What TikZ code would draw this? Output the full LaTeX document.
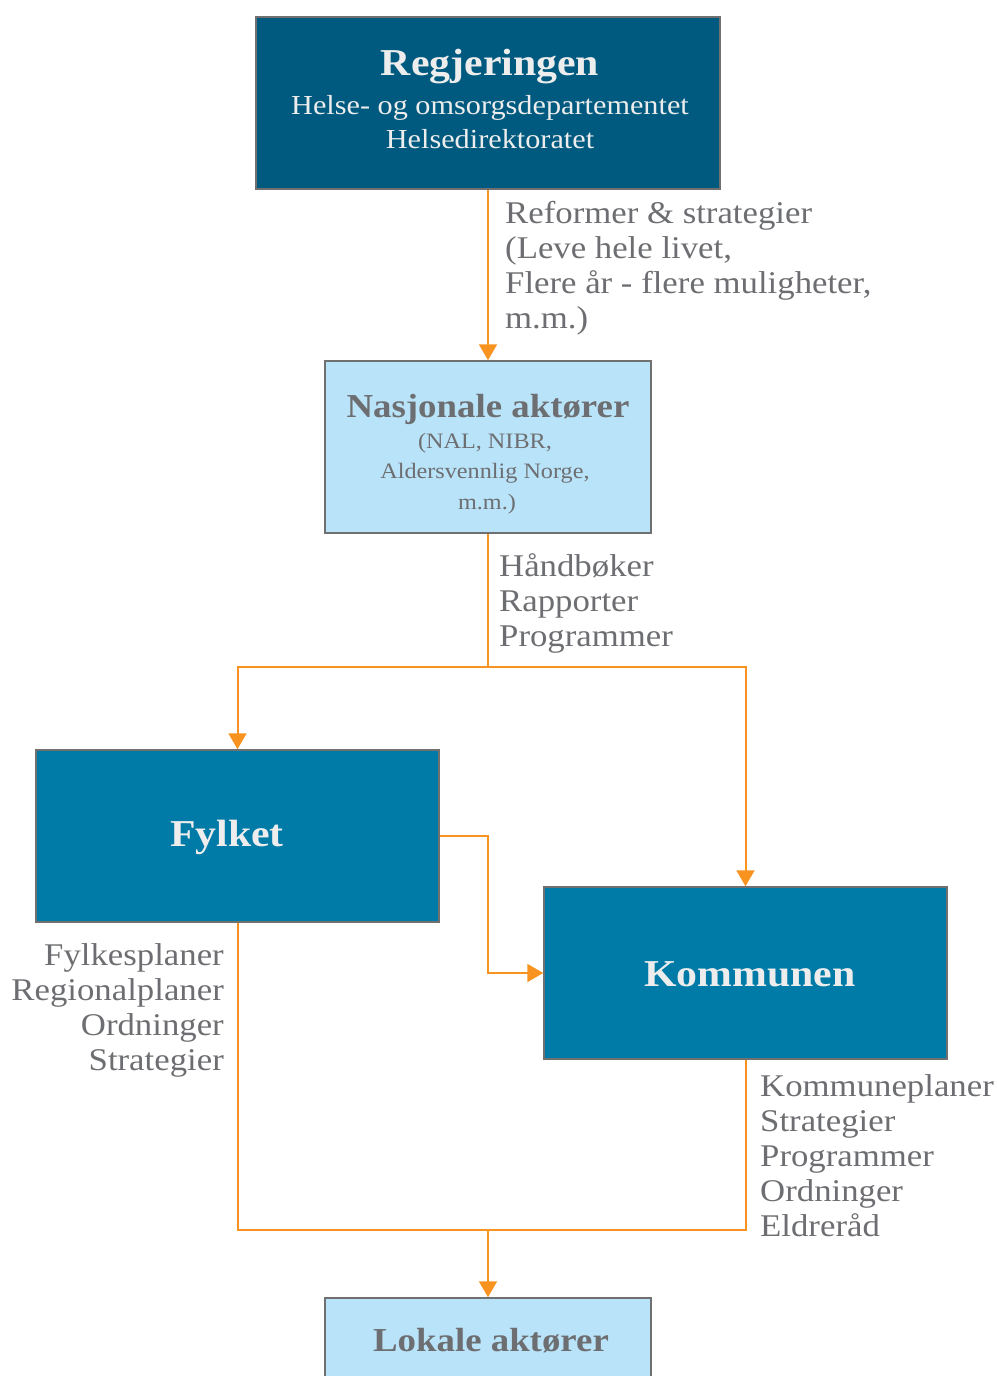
\documentclass[tikz,border=0pt]{standalone}
\usepackage{fontspec}
\setmainfont{Liberation Serif}[FakeStretch=1.1]
\usetikzlibrary{arrows.meta}
\definecolor{navy}{HTML}{005A7F}
\definecolor{seablue}{HTML}{007AA6}
\definecolor{sky}{HTML}{B9E3F8}
\definecolor{ink}{HTML}{6D6E71}
\definecolor{rim}{HTML}{707070}
\definecolor{flow}{HTML}{F7931E}
\definecolor{paper}{HTML}{EDEDED}
\tikzset{
  box/.style={draw=rim, line width=1.5pt, minimum height=172pt, inner sep=0pt},
  line/.style={draw=flow, line width=2pt},
  conn/.style={line, -{Triangle[width=18pt,length=16pt]}},
  note/.style={text=ink, font=\fontsize{31.6}{35}\selectfont, inner sep=0pt},
  head/.style={anchor=base, inner sep=0pt, font=\fontsize{38}{44}\selectfont\bfseries},
  subhead/.style={anchor=base, inner sep=0pt, font=\fontsize{33.5}{40}\selectfont\bfseries},
  sub/.style={anchor=base, inner sep=0pt},
}
\begin{document}
\begin{tikzpicture}[x=1pt, y=-1pt]
\useasboundingbox (0,0) rectangle (997,1376);
\clip (0,0) rectangle (997,1376);

% boxes
\node[box, fill=navy, minimum width=464pt] (reg) at (488,103) {};
\node[box, fill=sky, minimum width=326pt] (nas) at (488,447) {};
\node[box, fill=seablue, minimum width=403pt] (fyl) at (237.5,836) {};
\node[box, fill=seablue, minimum width=403pt] (kom) at (745.5,973) {};
\node[box, fill=sky, minimum width=326pt] (lok) at (488,1384) {};

% box texts
\node[head, text=paper] (regT) at (490,75) {Regjeringen};
\node[sub, text=paper, font=\fontsize{27.5}{35}\selectfont] (regA) at (490,114) {Helse- og omsorgsdepartementet};
\node[sub, text=paper, font=\fontsize{27.5}{35}\selectfont] (regB) at (490,148) {Helsedirektoratet};
\node[subhead, text=ink] (nasT) at (488,417) {Nasjonale aktører};
\node[sub, text=ink, font=\fontsize{22}{31}\selectfont] (nasA) at (485,448) {(NAL, NIBR,};
\node[sub, text=ink, font=\fontsize{22}{31}\selectfont] (nasB) at (485,478) {Aldersvennlig Norge,};
\node[sub, text=ink, font=\fontsize{22}{31}\selectfont] (nasC) at (487,509) {m.m.)};
\node[head, text=paper] (fylT) at (227,846) {Fylket};
\node[head, text=paper] (komT) at (750,986) {Kommunen};
\node[subhead, text=ink] (lokT) at (491,1351) {Lokale aktører};

% connectors
\coordinate (split) at (488,667);
\coordinate (join) at (488,1230);
\draw[conn] (reg.south) -- (nas.north);
\draw[line] (nas.south) -- (split);
\draw[conn] (split) -| (fyl.north);
\draw[conn] (split) -| (kom.north);
\draw[conn] (fyl.east) -- ++(48,0) |- (kom.west);
\draw[line] (fyl.south) |- (join) -| (kom.south);
\draw[conn] (join) -- (lok.north);

% connector labels
\node[note, anchor=north west, align=left] (t1) at (505,201)
  {Reformer \& strategier\\ (Leve hele livet,\\ Flere år - flere muligheter,\\ m.m.)};
\node[note, anchor=north west, align=left] (t2) at (499,553)
  {Håndbøker\\ Rapporter\\ Programmer};
\node[note, anchor=north east, align=right] (t3) at (224,943)
  {Fylkesplaner\\ Regionalplaner\\ Ordninger\\ Strategier};
\node[note, anchor=north west, align=left] (t4) at (760,1074)
  {Kommuneplaner\\ Strategier\\ Programmer\\ Ordninger\\ Eldreråd};
\end{tikzpicture}
\end{document}
